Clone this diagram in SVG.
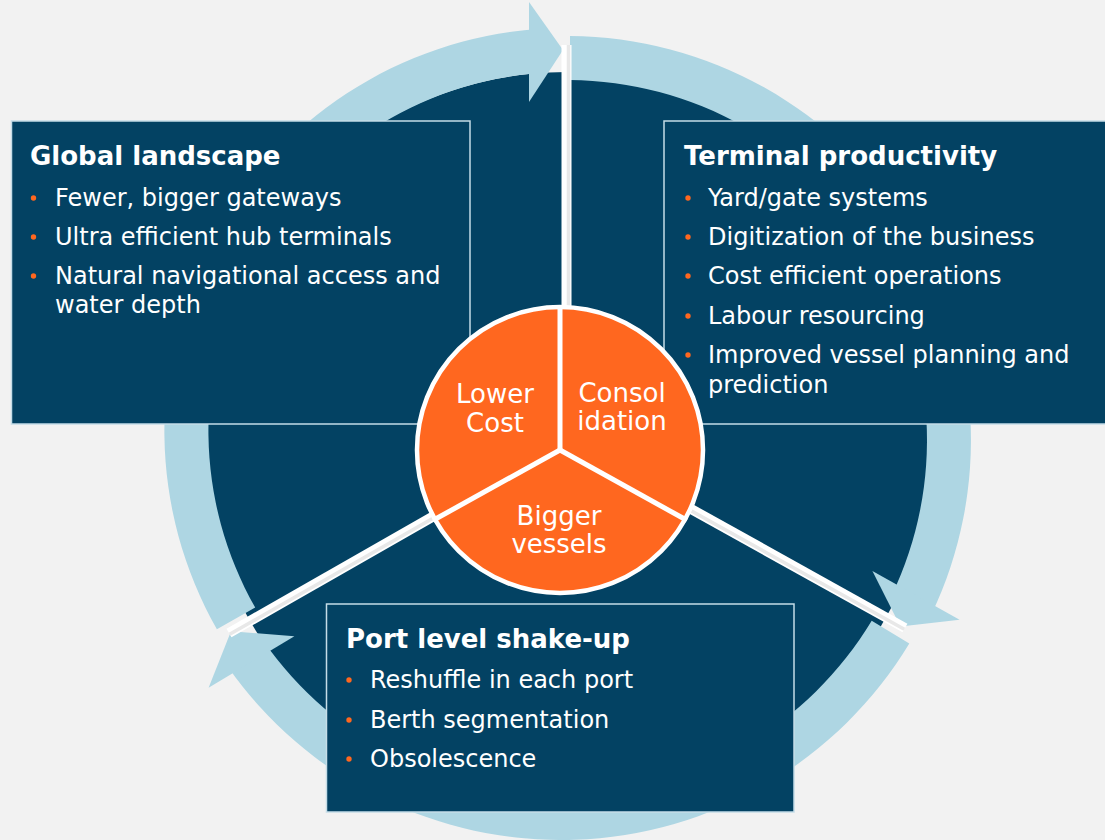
<svg xmlns="http://www.w3.org/2000/svg" width="1105" height="840" viewBox="0 0 1105 840">
<style>
.bg{fill:#f2f2f2}
.disc{fill:#034263}
.arrow{fill:#aed6e3}
.spoke{stroke:#ffffff;stroke-width:10;fill:none}
.spoke-in{stroke:#e8e8e8;stroke-width:3.5;fill:none}
.box{fill:#034263;stroke:#c5dde8;stroke-width:1.5}
.title{font-family:"DejaVu Sans",Verdana,sans-serif;font-weight:bold;font-size:26px;fill:#ffffff}
.item{font-family:"DejaVu Sans",Verdana,sans-serif;font-size:24px;fill:#ffffff}
.dot{fill:#ff671f}
.pie{fill:#ff671f;stroke:#ffffff;stroke-width:4.5}
.div{stroke:#ffffff;stroke-width:5}
.pie-label{font-family:"DejaVu Sans",Verdana,sans-serif;font-size:26px;fill:#ffffff;text-anchor:middle}
</style>
<rect class="bg" x="0" y="0" width="1105" height="840"/>
<circle class="disc" cx="567" cy="438" r="366"/>
<g id="connectors">
  <path class="arrow" d="M216.9,629.3 A402.6,402.6 0 0 1 536.8,29 L540.1,72.9 A358.6,358.6 0 0 0 255.2,607.6 Z"/>
  <polygon class="arrow" points="529,2 563,50 529,102"/>
  <path class="arrow" d="M570,36 A404,404 0 0 1 931.6,613.9 L891.9,595 A360,360 0 0 0 570,80 Z"/>
  <polygon class="arrow" points="959.6,619.8 900.4,626.4 872.4,571"/>
  <path class="arrow" d="M909.3,643.5 A407,407 0 0 1 227.6,666.5 L263.6,641.2 A363,363 0 0 0 871.7,620.8 Z"/>
  <polygon class="arrow" points="208.6,687.8 231,631.3 294.4,636.2"/>
  <line class="spoke" x1="566.5" y1="440" x2="566.5" y2="45"/>
  <line class="spoke-in" x1="568.5" y1="440" x2="568.5" y2="45"/>
  <line class="spoke" x1="567" y1="440" x2="229" y2="633"/>
  <line class="spoke-in" x1="567.7" y1="441.3" x2="229.7" y2="634.3"/>
  <line class="spoke" x1="567" y1="440" x2="905" y2="628"/>
  <line class="spoke-in" x1="566.3" y1="441.3" x2="904.3" y2="629.3"/>
</g>
<g id="global-landscape">
  <rect class="box" x="11.5" y="121" width="458.5" height="303"/>
  <text class="title" x="30" y="165">Global landscape</text>
  <circle class="dot" cx="33.5" cy="198" r="2.7"/>
  <text class="item" x="55" y="206">Fewer, bigger gateways</text>
  <circle class="dot" cx="33.5" cy="237" r="2.7"/>
  <text class="item" x="55" y="245">Ultra efficient hub terminals</text>
  <circle class="dot" cx="33.5" cy="276" r="2.7"/>
  <text class="item" x="55" y="284">Natural navigational access and</text>
  <text class="item" x="55" y="313">water depth</text>
</g>
<g id="terminal-productivity">
  <rect class="box" x="664" y="121" width="450" height="303"/>
  <text class="title" x="684" y="165">Terminal productivity</text>
  <circle class="dot" cx="688" cy="198" r="2.7"/>
  <text class="item" x="708" y="206">Yard/gate systems</text>
  <circle class="dot" cx="688" cy="237" r="2.7"/>
  <text class="item" x="708" y="245">Digitization of the business</text>
  <circle class="dot" cx="688" cy="276" r="2.7"/>
  <text class="item" x="708" y="284">Cost efficient operations</text>
  <circle class="dot" cx="688" cy="316" r="2.7"/>
  <text class="item" x="708" y="324">Labour resourcing</text>
  <circle class="dot" cx="688" cy="355" r="2.7"/>
  <text class="item" x="708" y="363">Improved vessel planning and</text>
  <text class="item" x="708" y="393">prediction</text>
</g>
<g id="port-level-shake-up">
  <rect class="box" x="326.5" y="604" width="467.5" height="208"/>
  <text class="title" x="346" y="648">Port level shake-up</text>
  <circle class="dot" cx="349" cy="680" r="2.7"/>
  <text class="item" x="370" y="688">Reshuffle in each port</text>
  <circle class="dot" cx="349" cy="720" r="2.7"/>
  <text class="item" x="370" y="728">Berth segmentation</text>
  <circle class="dot" cx="349" cy="759" r="2.7"/>
  <text class="item" x="370" y="767">Obsolescence</text>
</g>
<g id="center-pie">
  <circle class="pie" cx="560" cy="450" r="143"/>
  <line class="div" x1="560" y1="450" x2="560" y2="306"/>
  <line class="div" x1="560" y1="450" x2="433.2" y2="520.3"/>
  <line class="div" x1="560" y1="450" x2="686.8" y2="520.3"/>
  <text class="pie-label" x="495" y="403">Lower</text>
  <text class="pie-label" x="495" y="432">Cost</text>
  <text class="pie-label" x="622" y="402">Consol</text>
  <text class="pie-label" x="622" y="430">idation</text>
  <text class="pie-label" x="559" y="525">Bigger</text>
  <text class="pie-label" x="559" y="553">vessels</text>
</g>
</svg>
